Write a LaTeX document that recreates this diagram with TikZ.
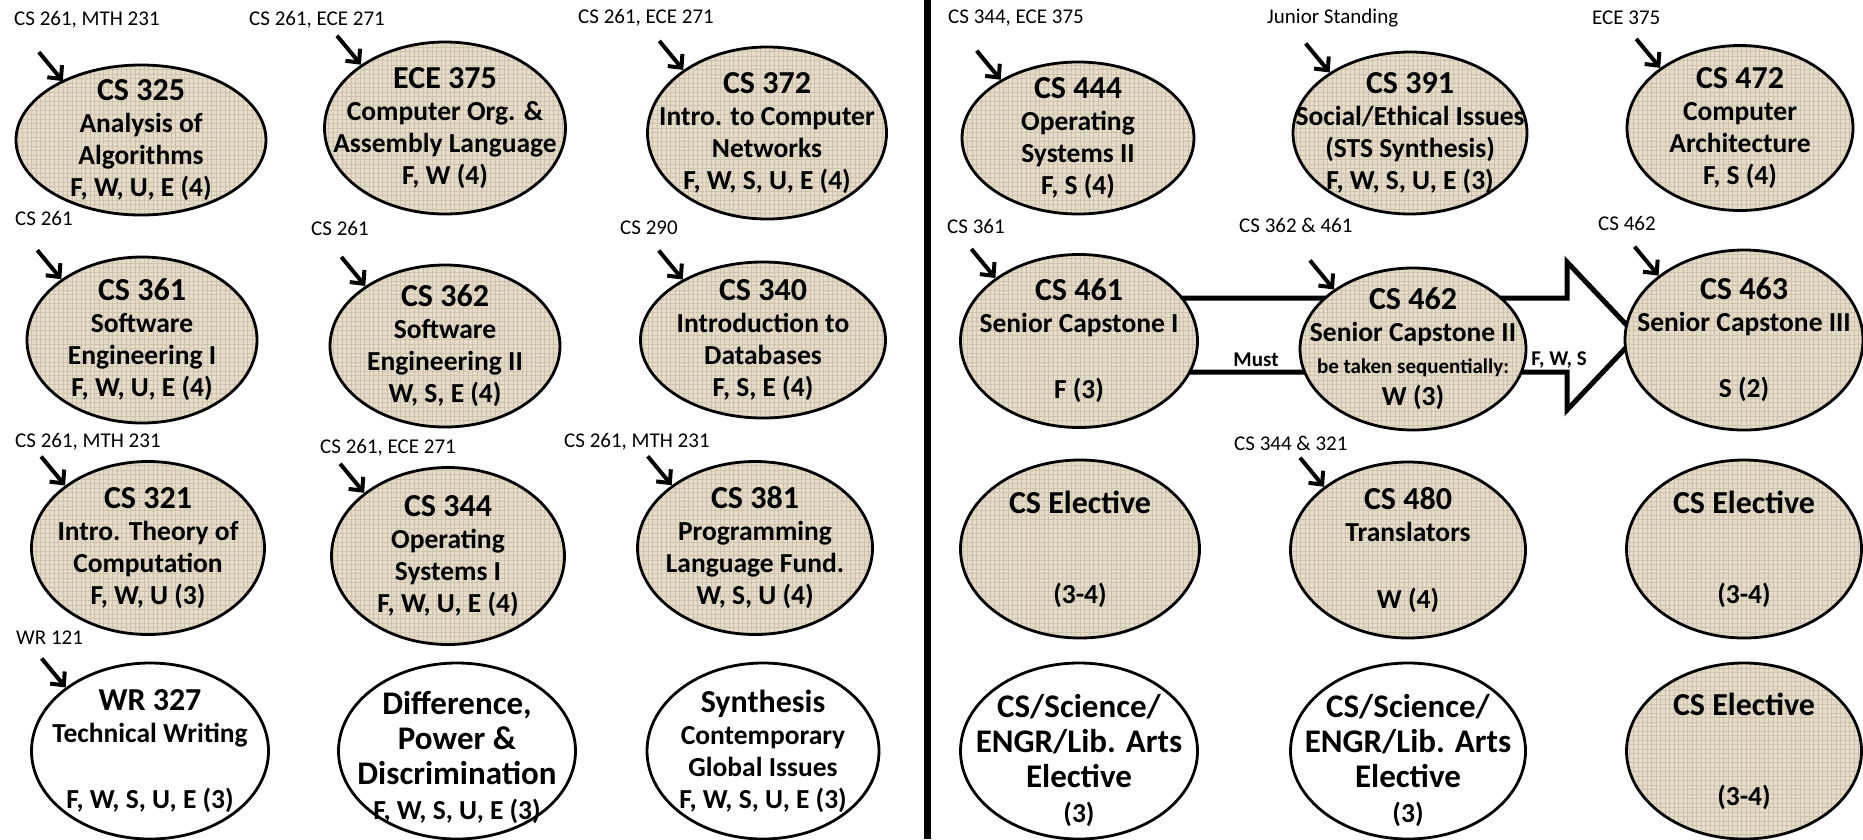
\documentclass[tikz,border=0pt]{standalone}
\usepackage{fontspec}
\setmainfont{Carlito}
\usetikzlibrary{positioning, arrows.meta, shapes.geometric, calc, patterns.meta}

\definecolor{linen}{RGB}{229,220,202}
\definecolor{linendk}{RGB}{205,194,172}
\newcommand{\bigtxt}{\fontsize{32}{36}\selectfont\bfseries}
\newcommand{\hugetxt}{\fontsize{33}{35}\selectfont\bfseries}
\newcommand{\midtxt}{\fontsize{27.5}{32}\selectfont\bfseries}
\newcommand{\smltxt}{\fontsize{21}{26}\selectfont\bfseries}
\newcommand{\reqtxt}{\fontsize{21}{24}\selectfont}

\begin{document}
\begin{tikzpicture}[
    x=1pt, y=-1pt,
    >={Straight Barb[length=10pt,width=19pt]},
    course/.style={ellipse, draw, line width=2.8pt, inner sep=0pt,
      preaction={fill=linen},
      preaction={pattern={Lines[distance=4.5pt, angle=0, line width=.6pt]}, pattern color=linendk},
      pattern={Lines[distance=4.5pt, angle=90, line width=.6pt]}, pattern color=linendk},
    elective/.style={ellipse, draw, line width=2.8pt, inner sep=0pt, fill=white},
    ctext/.style={align=center, font=\midtxt, inner sep=0pt},
    cbig/.style={ctext, font=\hugetxt},
    prereq/.style={font=\reqtxt, anchor=west, inner sep=0pt},
    req/.style={->, line width=4pt},
    note/.style={font=\smltxt, inner sep=0pt},
  ]
  \useasboundingbox (0,0) rectangle (1863,839);

  % line between the two years
  \draw[line width=7pt] (927,0) -- (927,839);

  % block arrow behind the capstone sequence
  \draw[line width=5pt, fill=white, line join=miter]
    (1150,298) -- (1567,298) -- (1567,262) -- (1637,336)
    -- (1567,410) -- (1567,372) -- (1150,372) -- cycle;
  \node[note] (must) at (1256,360) {Must};
  \node[note] (fws) at (1559,360) {F, W, S};

  % the ellipses
  \foreach \n/\x/\y/\w/\h in {cs325/141/140/250/150, ece375/445/128/241/172,
      cs372/767/133/239/172, cs361/142/340/230/166, cs362/445/346/230/162,
      cs340/763/340/245/156, cs321/148/548/233/173, cs344/448/556/233/177,
      cs381/755/548/235/173, cs444/1078/138/232/152, cs391/1410/133/234/162,
      cs472/1740/128/226/165, cs461/1079/341/237/173, cs462/1413/349/226/162,
      cs463/1744/340/238/180, elecA/1080/549/239/178, cs480/1408/550/235/176,
      elecB/1744/549/235/178, elecC/1744/751/235/176}
    \node[course, minimum width=\w pt, minimum height=\h pt] (\n) at (\x,\y) {};
  \foreach \n/\x/\y/\w/\h in {wr327/150/751/237/176, dpd/457/751/237/176,
      synth/763/751/232/176, sciA/1079/751/237/176, sciB/1408/751/235/176}
    \node[elective, minimum width=\w pt, minimum height=\h pt] (\n) at (\x,\y) {};

  % course texts
  \node[ctext] (t-cs325) at (cs325) {{\bigtxt CS 325}\\ Analysis of\\ Algorithms\\ F, W, U, E (4)};
  \node[ctext] (t-ece375) at (ece375) {{\bigtxt ECE 375}\\ Computer Org. \&\\ Assembly Language\\ F, W (4)};
  \node[ctext] (t-cs372) at (cs372) {{\bigtxt CS 372}\\ Intro. to Computer\\ Networks\\ F, W, S, U, E (4)};
  \node[ctext] (t-cs361) at (cs361) {{\bigtxt CS 361}\\ Software\\ Engineering I\\ F, W, U, E (4)};
  \node[ctext] (t-cs362) at (cs362) {{\bigtxt CS 362}\\ Software\\ Engineering II\\ W, S, E (4)};
  \node[ctext] (t-cs340) at (cs340) {{\bigtxt CS 340}\\ Introduction to\\ Databases\\ F, S, E (4)};
  \node[ctext] (t-cs321) at (cs321) {{\bigtxt CS 321}\\ Intro. Theory of\\ Computation\\ F, W, U (3)};
  \node[ctext] (t-cs344) at (cs344) {{\bigtxt CS 344}\\ Operating\\ Systems I\\ F, W, U, E (4)};
  \node[ctext] (t-cs381) at (cs381) {{\bigtxt CS 381}\\ Programming\\ Language Fund.\\ W, S, U (4)};
  \node[ctext] (t-wr327) at (wr327) {{\bigtxt WR 327}\\ Technical Writing\\[34pt] F, W, S, U, E (3)};
  \node[cbig] (t-dpd) at ($(dpd)+(0,6)$) {Difference,\\ Power \&\\ Discrimination\\ {\midtxt F, W, S, U, E (3)}};
  \node[ctext] (t-synth) at (synth) {{\bigtxt Synthesis}\\ Contemporary\\ Global Issues\\ F, W, S, U, E (3)};
  \node[ctext] (t-cs444) at (cs444) {{\bigtxt CS 444}\\ Operating\\ Systems II\\ F, S (4)};
  \node[ctext] (t-cs391) at (cs391) {{\bigtxt CS 391}\\ Social/Ethical Issues\\ (STS Synthesis)\\ F, W, S, U, E (3)};
  \node[ctext] (t-cs472) at (cs472) {{\bigtxt CS 472}\\ Computer\\ Architecture\\ F, S (4)};
  \node[ctext] (t-cs461) at (cs461) {{\bigtxt CS 461}\\ Senior Capstone I\\[34pt] F (3)};
  \node[ctext] (t-cs462) at (cs462) {{\bigtxt CS 462}\\ Senior Capstone II\\ {\smltxt be taken sequentially:}\\ W (3)};
  \node[ctext] (t-cs463) at (cs463) {{\bigtxt CS 463}\\ Senior Capstone III\\[34pt] S (2)};
  \node[ctext] (t-cs480) at (cs480) {{\bigtxt CS 480}\\ Translators\\[35pt] W (4)};
  \foreach \n in {elecA, elecB, elecC}
    \node[ctext] (t-\n) at (\n) {{\bigtxt CS Elective}\\[58pt] (3-4)};
  \foreach \n in {sciA, sciB}
    \node[cbig] (t-\n) at ($(\n)+(0,9)$) {CS/Science/\\ ENGR/Lib. Arts\\ Elective\\ {\midtxt (3)}};

  % prerequisites
  \foreach \n/\x/\y/\txt in {cs325/14/20/{CS 261, MTH 231}, ece375/249/20/{CS 261, ECE 271},
      cs372/578/18/{CS 261, ECE 271}, cs444/948/18/{CS 344, ECE 375},
      cs391/1267/18/{Junior Standing}, cs472/1592/18/{ECE 375},
      cs361/15/218/{CS 261}, cs362/311/228/{CS 261}, cs340/620/228/{CS 290},
      cs461/947/226/{CS 361}, cs462/1239/225/{CS 362 \& 461}, cs463/1598/223/{CS 462},
      cs321/15/442/{CS 261, MTH 231}, cs344/320/448/{CS 261, ECE 271},
      cs381/564/442/{CS 261, MTH 231}, cs480/1234/443/{CS 344 \& 321},
      wr327/16/638/{WR 121}}
    \node[prereq] (p-\n) at (\x,\y) {\txt};

  \foreach \n in {cs325, ece375, cs372, cs361, cs362, cs340, cs321, cs344, cs381,
      wr327, cs444, cs391, cs472, cs461, cs462, cs463, cs480} {
    \coordinate (a-\n) at ($(\n.143)+(-24,-29)$);
    \draw[req] (a-\n) -- (\n.143);
  }
\end{tikzpicture}
\end{document}
